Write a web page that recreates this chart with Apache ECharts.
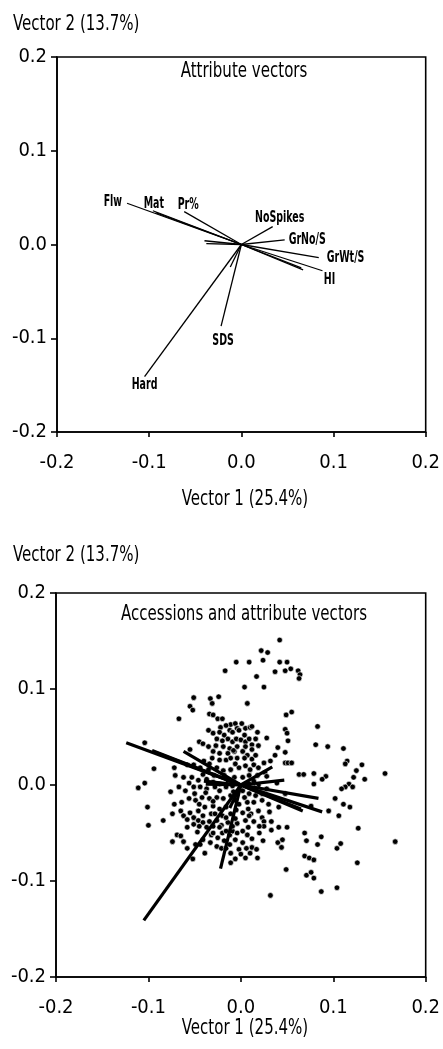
<!DOCTYPE html>
<html>
<head>
<meta charset="utf-8">
<script src="https://cdn.jsdelivr.net/npm/echarts@6/dist/echarts.min.js"></script>
<style>
  html, body { margin: 0; padding: 0; background: #fff; }
  #chart { width: 443px; height: 1049px; }
</style>
</head>
<body>
<div id="chart"></div>
<script>
// Principal-component biplot: attribute vectors alone, then accessions with the same vectors.
const axisTitleX = 'Vector 1 (25.4%)';
const axisTitleY = 'Vector 2 (13.7%)';
const panelTitles = ['Attribute vectors', 'Accessions and attribute vectors'];

// Attribute vectors (loadings on vector 1 and vector 2); unnamed ones carry no label.
const vectorNames = ['Flw', '', 'Mat', 'Pr%', '', '', 'NoSpikes', 'GrNo/S', 'GrWt/S', '', '', 'HI', '', 'SDS', 'Hard'];
const vectorX = [-0.124, -0.093, -0.096, -0.062, -0.040, -0.038, 0.034, 0.047, 0.084, 0.067, 0.065, 0.088, -0.012, -0.022, -0.105];
const vectorY = [0.044, 0.034, 0.036, 0.035, 0.004, 0.001, 0.019, 0.005, -0.014, -0.027, -0.025, -0.028, -0.024, -0.087, -0.141];

// Accession scores [vector 1, vector 2]
const accessions = [
  [0.042,0.151],[0.022,0.140],[0.029,0.138],[-0.005,0.128],[0.009,0.128],[0.024,0.130],[0.042,0.128],[0.050,0.128],
  [-0.017,0.119],[0.037,0.118],[0.048,0.119],[0.054,0.121],[0.062,0.119],[0.064,0.115],[0.063,0.111],[0.017,0.113],
  [0.004,0.102],[0.025,0.102],[-0.051,0.091],[-0.033,0.090],[-0.024,0.092],
  [-0.031,0.085],[0.007,0.085],[-0.055,0.082],[-0.052,0.078],[-0.067,0.069],[-0.034,0.074],[-0.030,0.073],[-0.025,0.069],
  [-0.020,0.069],[0.049,0.073],[0.055,0.076],[0.083,0.061],[-0.011,0.063],[-0.006,0.064],[-0.022,0.060],[-0.012,0.057],
  [-0.004,0.059],[0.005,0.059],[0.010,0.060],[0.012,0.061],[-0.035,0.057],[-0.030,0.054],[-0.023,0.055],[-0.018,0.052],
  [-0.009,0.055],[-0.002,0.057],[0.004,0.052],[0.018,0.055],[0.028,0.049],[0.048,0.058],[0.050,0.054],[0.051,0.046],
  [0.081,0.042],[0.094,0.040],[0.111,0.038],[-0.104,0.044],[-0.045,0.045],[-0.041,0.043],[-0.035,0.040],[-0.014,0.048],
  [-0.009,0.045],[-0.005,0.048],[0.000,0.047],[0.005,0.045],[0.009,0.048],[0.012,0.042],[-0.019,0.040],[-0.012,0.038],
  [-0.004,0.040],[0.005,0.040],[0.012,0.037],[0.037,0.031],[0.040,0.039],[0.048,0.034],[0.048,0.023],[0.051,0.023],
  [0.055,0.023],[-0.055,0.037],[-0.030,0.035],[-0.023,0.033],[-0.014,0.033],[-0.007,0.035],[0.002,0.035],[0.007,0.031],
  [-0.031,0.028],[-0.023,0.026],[-0.016,0.026],[-0.011,0.028],[-0.004,0.028],[0.004,0.028],[0.012,0.027],[0.025,0.023],
  [0.032,0.025],[0.115,0.025],[0.113,0.022],[0.131,0.021],[0.125,0.015],[0.122,0.008],[0.134,0.006],[0.156,0.012],
  [0.063,0.011],[0.068,0.011],[0.079,0.012],[0.092,0.009],[0.088,0.006],[0.079,0.001],[0.117,0.001],[0.113,-0.002],
  [0.109,-0.004],[0.121,-0.002],[0.102,-0.014],[-0.094,0.017],[-0.104,0.002],[-0.111,-0.003],[-0.101,-0.023],
  [-0.072,0.018],[-0.058,0.021],[-0.051,0.021],[-0.044,0.018],[-0.035,0.016],[-0.026,0.018],[-0.019,0.015],[-0.011,0.016],
  [-0.002,0.018],[0.005,0.020],[0.014,0.021],[0.019,0.018],[0.026,0.013],[-0.071,0.010],[-0.062,0.008],[-0.053,0.008],
  [-0.046,0.005],[-0.037,0.006],[-0.030,0.003],[-0.023,0.001],[-0.014,0.005],[-0.007,0.008],[0.009,0.010],[0.018,0.010],
  [0.028,0.009],[0.039,0.002],[-0.076,-0.007],[-0.067,-0.002],[-0.060,-0.006],[-0.051,-0.002],[-0.044,-0.002],
  [-0.037,-0.004],[-0.028,-0.002],[-0.016,-0.002],[-0.009,-0.001],[0.009,0.001],[0.019,0.000],[-0.072,-0.020],
  [-0.064,-0.018],[-0.056,-0.014],[-0.049,-0.016],[-0.042,-0.013],[-0.034,-0.014],[-0.026,-0.013],[-0.019,-0.014],
  [-0.011,-0.011],[0.002,-0.006],[0.009,-0.009],[0.016,-0.011],[0.023,-0.009],[-0.065,-0.027],[-0.055,-0.029],
  [-0.046,-0.027],[-0.039,-0.023],[-0.030,-0.022],[-0.023,-0.025],[-0.016,-0.023],[-0.002,-0.020],[0.007,-0.018],
  [0.014,-0.018],[0.023,-0.016],[-0.074,-0.030],[-0.062,-0.032],[-0.051,-0.034],[-0.041,-0.032],[-0.032,-0.030],
  [-0.011,-0.030],[0.002,-0.029],[0.011,-0.030],[0.019,-0.027],[0.023,-0.034],[0.048,-0.009],[0.041,-0.023],
  [0.076,-0.022],[0.095,-0.027],[0.106,-0.032],[0.111,-0.020],[0.118,-0.023],
  [-0.100,-0.042],[-0.084,-0.037],[-0.058,-0.044],[-0.051,-0.041],[-0.046,-0.037],[-0.041,-0.039],[-0.034,-0.038],
  [-0.026,-0.037],[-0.021,-0.042],[-0.014,-0.039],[-0.004,-0.040],[0.005,-0.037],[0.014,-0.038],[0.025,-0.038],
  [0.033,-0.038],[0.025,-0.043],[0.033,-0.047],[0.041,-0.044],[0.050,-0.044],[-0.069,-0.052],[-0.065,-0.053],
  [-0.074,-0.059],[-0.062,-0.059],[-0.058,-0.066],[-0.052,-0.077],[-0.047,-0.049],[-0.041,-0.057],[-0.039,-0.071],
  [-0.032,-0.052],[-0.037,-0.044],[-0.030,-0.050],[-0.025,-0.055],[-0.026,-0.064],[-0.023,-0.044],[-0.020,-0.050],
  [-0.016,-0.048],[-0.012,-0.052],[-0.009,-0.048],[-0.004,-0.050],[0.002,-0.048],[0.007,-0.052],[-0.021,-0.066],
  [-0.016,-0.066],[-0.011,-0.071],[-0.002,-0.067],[0.000,-0.072],[0.005,-0.076],[0.012,-0.065],[0.017,-0.067],
  [0.018,-0.076],[-0.011,-0.081],[0.040,-0.060],[0.045,-0.057],[0.044,-0.065],[0.049,-0.088],[0.069,-0.050],
  [0.071,-0.058],[0.069,-0.074],[0.074,-0.076],[0.079,-0.078],[0.087,-0.054],[0.083,-0.062],[0.104,-0.066],
  [0.108,-0.061],[0.127,-0.045],[0.167,-0.059],[0.126,-0.081],[0.071,-0.094],[0.076,-0.091],[0.079,-0.097],
  [0.087,-0.111],[0.104,-0.107],[0.032,-0.115],[-0.049,-0.062],[-0.044,-0.062],
  // dense core of the cloud
  [-0.016,0.062],[0.001,0.064],[-0.026,0.048],[-0.020,0.046],[0.016,0.048],[-0.027,0.041],[0.019,0.041],[-0.008,0.036],
  [0.016,0.031],[-0.040,0.025],[-0.034,0.022],[-0.006,0.022],[0.010,0.016],[-0.029,0.010],[-0.018,0.010],[-0.010,0.004],
  [0.002,0.008],[0.014,0.004],[-0.041,0.011],[-0.056,0.002],[-0.023,-0.006],[-0.008,-0.007],[0.015,-0.003],[0.028,-0.004],
  [-0.038,-0.008],[-0.050,-0.009],[-0.030,-0.017],[-0.006,-0.016],[0.004,-0.013],[0.030,-0.020],[-0.045,-0.020],
  [-0.020,-0.032],[-0.005,-0.026],[0.031,-0.028],[-0.058,-0.036],[0.008,-0.025],[-0.028,-0.030],[-0.016,-0.034],
  [-0.006,-0.035],[0.009,-0.032],[0.020,-0.043],[-0.009,-0.043],[0.008,-0.044],[-0.030,-0.043],[-0.018,-0.058],
  [-0.006,-0.057],[0.002,-0.060],[0.012,-0.056],[-0.033,-0.060],[-0.012,-0.062],[0.006,-0.066],[-0.006,-0.077],
  [0.010,-0.071],[0.024,-0.058],[0.020,-0.050],[-0.045,-0.043]
];

const FONT = "'DejaVu Sans Condensed', 'DejaVu Sans', sans-serif";
const TEXT_SQUEEZE = 0.76;   // horizontal compression for the condensed look of titles
const LABEL_SQUEEZE = 0.7;   // same for the attribute names

// Where each attribute name sits relative to the tip of its vector (pixel nudges)
const labelPlacement = {
  'Flw':      { align: 'right',  dx: -5, dy: -1 },
  'Mat':      { align: 'center', dx: 1,  dy: -7 },
  'Pr%':      { align: 'center', dx: 4,  dy: -7 },
  'NoSpikes': { align: 'center', dx: 7,  dy: -9 },
  'GrNo/S':   { align: 'left',   dx: 4,  dy: 0 },
  'GrWt/S':   { align: 'left',   dx: 8,  dy: 0 },
  'HI':       { align: 'center', dx: 7,  dy: 9 },
  'SDS':      { align: 'center', dx: 2,  dy: 15 },
  'Hard':     { align: 'center', dx: 0,  dy: 8 }
};

const grids = [
  { left: 57, top: 57, width: 375, height: 375 },
  { left: 56, top: 593, width: 377, height: 384 }
];

function axisFor(i, isX) {
  return {
    type: 'value', gridIndex: i, min: -0.2, max: 0.2, interval: 0.1,
    axisLine: { show: true, onZero: false, lineStyle: { color: '#000', width: 1.6 } },
    axisTick: { show: true, length: isX ? 5 : 6, lineStyle: { color: '#000', width: 1.6 } },
    axisLabel: { show: true, margin: isX ? 21 : 10, color: '#000', fontSize: 20, fontFamily: FONT,
                 showMinLabel: true, showMaxLabel: true, formatter: v => v.toFixed(1) },
    splitLine: { show: false }
  };
}

const series = [];

// Accession scatter sits under the vectors
series.push({
  type: 'scatter', xAxisIndex: 1, yAxisIndex: 1, z: 1,
  data: accessions, symbol: 'circle', symbolSize: 5.6,
  itemStyle: { color: '#000', borderColor: '#fff', borderWidth: 0.6, opacity: 1 },
  silent: true
});

[1.3, 3.2].forEach((w, g) => {
  vectorNames.forEach((name, i) => {
    series.push({
      type: 'line', xAxisIndex: g, yAxisIndex: g, z: 3,
      data: [[0, 0], [vectorX[i], vectorY[i]]],
      symbol: 'none', silent: true,
      lineStyle: { color: '#000', width: w, cap: 'butt' }
    });
  });
});

// Names of the attributes at the vector tips (first panel only)
const labelled = vectorNames.map((n, i) => i).filter(i => vectorNames[i]);
series.push({
  type: 'custom', xAxisIndex: 0, yAxisIndex: 0, z: 4, silent: true,
  data: labelled.map(i => [vectorX[i], vectorY[i], i]),
  renderItem: (params, api) => {
    const name = vectorNames[api.value(2)];
    const place = labelPlacement[name];
    const p = api.coord([api.value(0), api.value(1)]);
    return {
      type: 'text', x: p[0] + place.dx, y: p[1] + place.dy, scaleX: LABEL_SQUEEZE,
      style: { text: name, fill: '#000', font: 'bold 15px ' + FONT,
               align: place.align, verticalAlign: 'middle',
               textAlign: place.align, textVerticalAlign: 'middle' }
    };
  }
});

function text(str, x, y, size, align) {
  return {
    type: 'text', x, y, scaleX: TEXT_SQUEEZE, silent: true,
    style: { text: str, fill: '#000', font: size + 'px ' + FONT, textAlign: align, textVerticalAlign: 'middle' }
  };
}

const option = {
  animation: false,
  backgroundColor: '#fff',
  grid: grids.map(g => Object.assign({ show: true, borderColor: '#000', borderWidth: 1.6, containLabel: false }, g)),
  xAxis: [axisFor(0, true), axisFor(1, true)],
  yAxis: [axisFor(0, false), axisFor(1, false)],
  series,
  graphic: [
    text(axisTitleY, 13, 24, 22, 'left'),
    text(panelTitles[0], 244, 71, 22, 'center'),
    text(axisTitleX, 245, 499, 22, 'center'),
    text(axisTitleY, 13, 555, 22, 'left'),
    text(panelTitles[1], 244, 614, 22, 'center'),
    text(axisTitleX, 245, 1028, 22, 'center')
  ]
};

echarts.init(document.getElementById('chart'), null, { renderer: 'canvas' }).setOption(option);
</script>
</body>
</html>
